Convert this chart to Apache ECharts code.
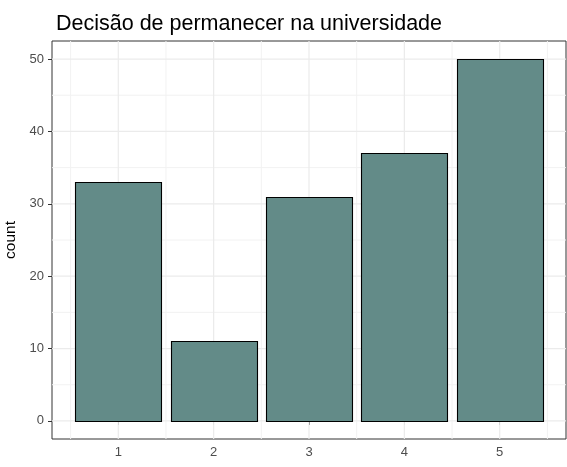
<!DOCTYPE html>
<html>
<head>
<meta charset="utf-8">
<script src="https://cdn.jsdelivr.net/npm/echarts@6/dist/echarts.min.js"></script>
<style>
html,body{margin:0;padding:0;background:#fff;}
#chart{width:567px;height:467px;}
</style>
</head>
<body>
<div id="chart"></div>
<script>
// Data
const categories = [1, 2, 3, 4, 5];
const counts = [33, 11, 31, 37, 50];
const yTicks = [0, 10, 20, 30, 40, 50];
const yMinor = [5, 15, 25, 35, 45];
const xTicks = [1, 2, 3, 4, 5];
const xMinor = [0.5, 1.5, 2.5, 3.5, 4.5, 5.5];
const titleText = 'Decisão de permanecer na universidade';
const yName = 'count';

const barWidthUnits = 0.9;
const xMin = 0.305, xMax = 5.695;
const yMin = -2.5, yMax = 52.5;
const FONT = '"Liberation Sans", Arial, sans-serif';

function vLine(color, width) {
  return function (params, api) {
    const v = api.value(0);
    const a = api.coord([v, yMin]);
    const b = api.coord([v, yMax]);
    return { type: 'line', shape: { x1: a[0], y1: a[1], x2: b[0], y2: b[1] },
      style: { stroke: color, lineWidth: width }, silent: true };
  };
}
function hLine(color, width) {
  return function (params, api) {
    const v = api.value(0);
    const a = api.coord([xMin, v]);
    const b = api.coord([xMax, v]);
    return { type: 'line', shape: { x1: a[0], y1: a[1], x2: b[0], y2: b[1] },
      style: { stroke: color, lineWidth: width }, silent: true };
  };
}

const chart = echarts.init(document.getElementById('chart'), null, { renderer: 'canvas' });
chart.setOption({
  animation: false,
  backgroundColor: '#fff',
  title: {
    text: titleText,
    left: 51, top: 8,
    textStyle: { fontFamily: FONT, fontSize: 21.5, fontWeight: 'normal', color: '#000' }
  },
  grid: {
    left: 52, top: 41, width: 514, height: 398,
    outerBoundsMode: 'none', containLabel: false,
    show: true, borderColor: '#333', borderWidth: 1, backgroundColor: '#fff'
  },
  xAxis: {
    type: 'value', min: xMin, max: xMax,
    axisLine: { show: false },
    splitLine: { show: false },
    axisTick: { show: true, length: 4, customValues: xTicks, lineStyle: { color: '#333', width: 1 } },
    axisLabel: { customValues: xTicks, margin: 7, color: '#4d4d4d', fontSize: 13, fontFamily: FONT,
      formatter: v => String(v) }
  },
  yAxis: {
    type: 'value', min: yMin, max: yMax,
    name: yName, nameLocation: 'middle', nameGap: 31,
    nameTextStyle: { fontFamily: FONT, fontSize: 15.5, color: '#000' },
    axisLine: { show: false },
    splitLine: { show: false },
    axisTick: { show: true, length: 4, customValues: yTicks, lineStyle: { color: '#333', width: 1 } },
    axisLabel: { customValues: yTicks, margin: 8, color: '#4d4d4d', fontSize: 13, fontFamily: FONT,
      formatter: v => String(v) }
  },
  series: [
    { type: 'custom', z: 1, data: xMinor.map(v => [v]), renderItem: vLine('#f2f2f2', 1), encode: { x: 0 } },
    { type: 'custom', z: 1, data: yMinor.map(v => [v]), renderItem: hLine('#f2f2f2', 1), encode: { y: 0 } },
    { type: 'custom', z: 2, data: xTicks.map(v => [v]), renderItem: vLine('#ebebeb', 1.2), encode: { x: 0 } },
    { type: 'custom', z: 2, data: yTicks.map(v => [v]), renderItem: hLine('#ebebeb', 1.2), encode: { y: 0 } },
    {
      type: 'custom', z: 5,
      data: categories.map((c, i) => [c, counts[i]]),
      encode: { x: 0, y: 1 },
      renderItem: function (params, api) {
        const x = api.value(0), y = api.value(1);
        const p1 = api.coord([x - barWidthUnits / 2, y]);
        const p2 = api.coord([x + barWidthUnits / 2, 0]);
        return { type: 'rect',
          shape: { x: Math.round(p1[0]) + 0.5, y: Math.round(p1[1]) + 0.5,
                   width: Math.round(p2[0] - p1[0]), height: Math.round(p2[1] - p1[1]) },
          style: { fill: '#638b88', stroke: '#000', lineWidth: 1.1 } };
      }
    }
  ]
});
</script>
</body>
</html>
